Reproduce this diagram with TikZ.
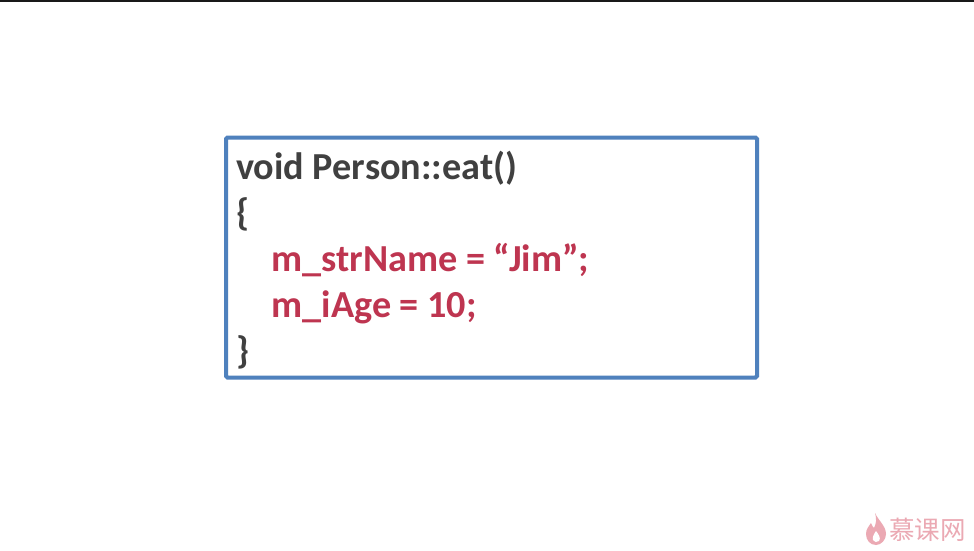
\documentclass[tikz,border=0pt]{standalone}
\usepackage{fontspec}
\setmainfont{Carlito}
\newfontfamily\cjk{Noto Sans CJK SC}
\definecolor{boxblue}{HTML}{4F81BD}
\definecolor{codegray}{HTML}{404040}
\definecolor{codered}{HTML}{BE3550}
\definecolor{logopink}{HTML}{EBA9B3}
\tikzset{
  x=1pt,y=-1pt,
  code/.style={anchor=base west,inner sep=0pt,font=\fontsize{38.2}{38.2}\selectfont\bfseries,text=codegray},
  redcode/.style={code,text=codered}
}
\begin{document}
\begin{tikzpicture}
\useasboundingbox (0,0) rectangle (974,550);
\fill[white] (0,0) rectangle (974,550);
\fill[black!90] (0,0) rectangle (974,1.6);
\node[draw=boxblue,line width=4pt,rounded corners=1.5pt,minimum width=531pt,minimum height=240pt,inner sep=0pt] (box) at (491.5,257.5) {};
\node[code] (l1) at (236,179.2) {void Person::eat()};
\node[code] (l2) at (236,225.2) {\{};
\node[redcode] (l3) at (271.5,271) {m\_strName = “Jim”;};
\node[redcode] (l4) at (271.5,317) {m\_iAge = 10;};
\node[code] (l5) at (236,363) {\}};
\fill[logopink] (875,513) .. controls (878,520) and (886,526) .. (886,534) .. controls (886,540) and (881,545) .. (876,545) .. controls (870,545) and (866,540) .. (866,534) .. controls (866,529) and (869,526) .. (871,523) .. controls (872,526) and (873,527) .. (874,528) .. controls (876,524) and (877,519) .. (875,513) -- cycle;
\fill[white] (876,531) .. controls (879,535) and (881,538) .. (879,541) .. controls (877,543) and (874,542) .. (873,540) .. controls (872,537) and (874,534) .. (876,531) -- cycle;
\node[anchor=base west,inner sep=0pt,text=logopink,font=\cjk\fontsize{25.5}{25.5}\selectfont] (logo) at (889,539) {慕课网};
\end{tikzpicture}
\end{document}
